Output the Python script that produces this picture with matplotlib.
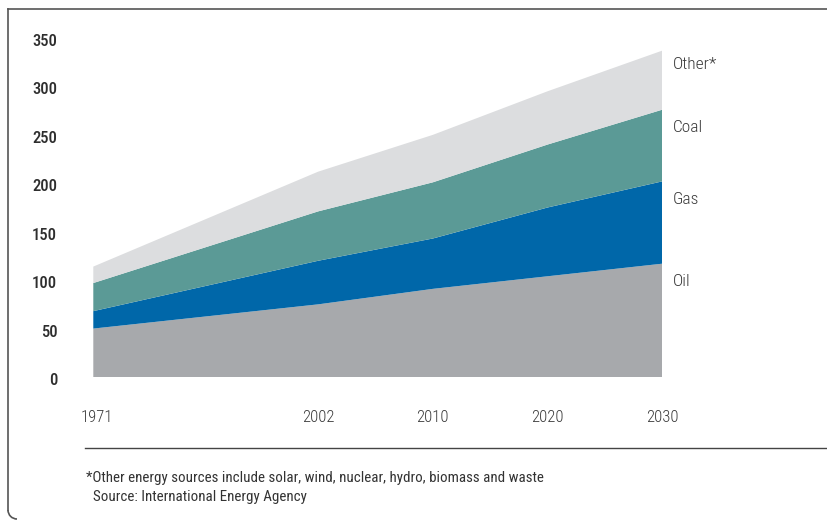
import matplotlib.pyplot as plt
from matplotlib.lines import Line2D
from matplotlib.patches import Arc
from matplotlib.transforms import ScaledTranslation

years = ['1971', '2002', '2010', '2020', '2030']
oil = [50, 75, 91, 104, 117]
gas = [18, 45, 52, 71, 85]
coal = [29, 51, 58, 65, 74]
other = [17, 41, 49, 55, 61]
series_names = ['Oil', 'Gas', 'Coal', 'Other*']
colors = ['#a7a9ac', '#0067a9', '#5b9a96', '#dcdddf']

# 1971 sits further left, the projection years are evenly spaced
xpos = [-1.96, 0, 1, 2, 3]
label_y = [99, 183, 258, 323]

plt.rcParams['font.family'] = ['Roboto Condensed', 'Liberation Sans Narrow', 'Roboto', 'DejaVu Sans']

fig = plt.figure(figsize=(8.28, 5.21), dpi=100)
ax = fig.add_axes([93.3 / 828, 144 / 521, 569 / 828, 339 / 521])

ax.stackplot(xpos, oil, gas, coal, other, colors=colors, linewidth=0)
ax.set_xlim(xpos[0], xpos[-1])
ax.set_ylim(0, 350)

for s in ax.spines.values():
    s.set_visible(False)

ax.set_yticks(range(0, 351, 50))
ax.tick_params(axis='y', length=0, pad=26, labelsize=12, labelcolor='#2e2e2e')
ax.set_xticks(xpos)
ax.set_xticklabels(years)
ax.tick_params(axis='x', length=0, pad=24, labelsize=12, labelcolor='#3a3a3a')
for lab in ax.get_yticklabels():
    lab.set_fontweight('medium')
    lab.set_transform(lab.get_transform() + ScaledTranslation(0, -2 / 100, fig.dpi_scale_trans))
for lab in ax.get_xticklabels():
    lab.set_fontweight('light')
first = ax.get_xticklabels()[0]
first.set_transform(first.get_transform() + ScaledTranslation(4 / 100, 0, fig.dpi_scale_trans))

for name, y in zip(series_names, label_y):
    ax.text(xpos[-1] + 0.09, y, name, fontsize=12.5, color='#3a3a3a', fontweight='light',
            va='center', ha='left', clip_on=False)

# frame around the panel
fig.add_artist(Line2D([8 / 828, 1], [1 - 9 / 521, 1 - 9 / 521], color='#555555', lw=1.2))
fig.add_artist(Line2D([8 / 828, 8 / 828], [1 - 9 / 521, 1 - 510 / 521], color='#555555', lw=1.2))
fig.add_artist(Arc((17 / 828, 1 - 510 / 521), 18 / 828, 18 / 521, theta1=180, theta2=270,
                   transform=fig.transFigure, color='#555555', lw=1.2))
fig.add_artist(Line2D([85 / 828, 1], [1 - 447.5 / 521, 1 - 447.5 / 521], color='#444444', lw=1.0))

fig.text(86 / 828, 1 - 478 / 521,
         '*Other energy sources include solar, wind, nuclear, hydro, biomass and waste',
         fontsize=10.8, color='#333333', va='center', ha='left')
fig.text(93 / 828, 1 - 497 / 521, 'Source: International Energy Agency',
         fontsize=10.8, color='#333333', va='center', ha='left')

fig.savefig('out.png', dpi=100)
